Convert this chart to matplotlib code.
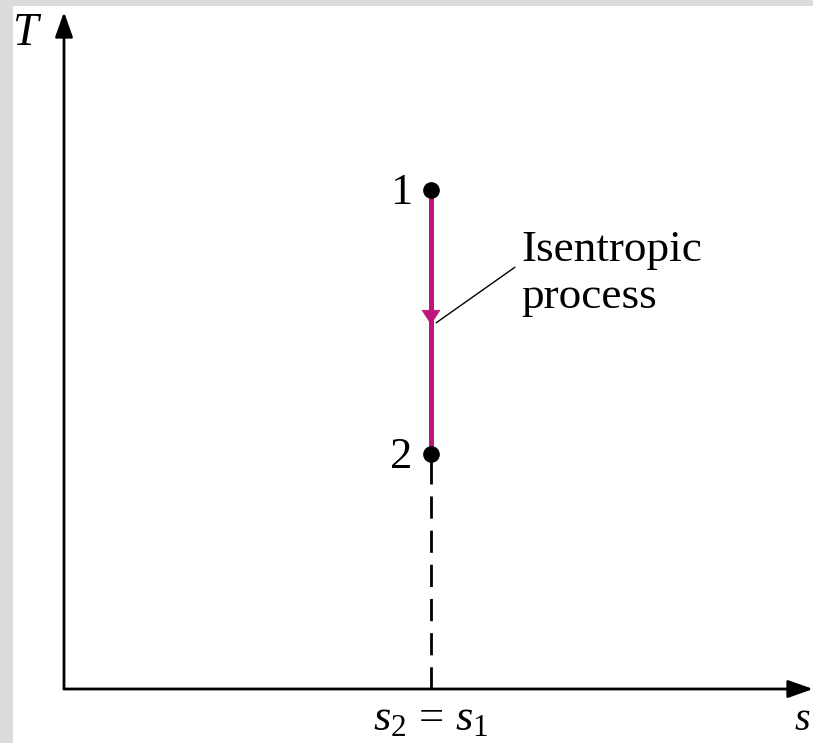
import matplotlib.pyplot as plt
from matplotlib.patches import Rectangle

plt.rcParams['font.family'] = ['Liberation Serif', 'DejaVu Serif']
plt.rcParams['mathtext.fontset'] = 'custom'
plt.rcParams['mathtext.rm'] = 'Liberation Serif'
plt.rcParams['mathtext.it'] = 'Liberation Serif:italic'
plt.rcParams['mathtext.fallback'] = 'stix'

# T-s diagram, arbitrary units on both axes (0..10)
s_1 = 4.9
T_states = [7.37, 3.47]
state_labels = ['1', '2']
note_lines = ['Isentropic', 'process']
x_tick_label = r'$s_2\,=\,s_1$'

magenta = '#c0147c'

fig = plt.figure(figsize=(8.13, 7.43), dpi=100)
fig.patch.set_facecolor('#dcdcdc')
fig.add_artist(Rectangle((13 / 813, 0), 1, 1 - 6 / 743, transform=fig.transFigure,
                         facecolor='white', edgecolor='none', zorder=0))

ax = fig.add_axes([64 / 813, 54 / 743, 749 / 813, 677 / 743])
ax.set_xlim(0, 10)
ax.set_ylim(0, 10)
ax.axis('off')
ax.patch.set_alpha(0)

# axes with arrow heads
axis_arrow = dict(arrowstyle='-|>,head_length=0.76,head_width=0.27', lw=2,
                  color='black', shrinkA=0, shrinkB=0, mutation_scale=20)
ax.annotate('', xy=(0, 10), xytext=(0, 0), arrowprops=axis_arrow, annotation_clip=False)
ax.annotate('', xy=(10, 0), xytext=(0, 0), arrowprops=axis_arrow, annotation_clip=False)

# dashed drop line from state 2 to the s axis
ax.plot([s_1, s_1], [0, T_states[1]], color='black', lw=2, dashes=(8, 4.3), zorder=2)

# isentropic process line with arrow in the middle
ax.plot([s_1, s_1], T_states, color=magenta, lw=3.6, solid_capstyle='butt', zorder=3)
T_mid = sum(T_states) / 2
ax.annotate('', xy=(s_1, T_mid - 0.04), xytext=(s_1, T_mid + 0.4),
            arrowprops=dict(arrowstyle='-|>,head_length=0.5,head_width=0.32',
                            color=magenta, lw=0.5, shrinkA=0, shrinkB=0,
                            mutation_scale=20), zorder=3)

# state points
ax.plot([s_1] * len(T_states), T_states, 'o', color='black', ms=11, zorder=4)
for T, lab in zip(T_states, state_labels):
    ax.annotate(lab, xy=(s_1, T), xytext=(-13.5, -10), textcoords='offset points',
                ha='right', va='baseline', fontsize=32)

# leader + note
ax.annotate('', xy=(4.97, 5.41), xytext=(6.02, 6.23),
            arrowprops=dict(arrowstyle='-', lw=1.0, color='black', shrinkA=0, shrinkB=0))
ax.text(6.11, 6.32, note_lines[0], ha='left', va='baseline', fontsize=32.5)
ax.text(6.11, 5.63, note_lines[1], ha='left', va='baseline', fontsize=32.5)

# axis labels
ax.text(s_1, -0.606, x_tick_label, ha='center', va='baseline', fontsize=32, clip_on=False)
ax.text(9.96, -0.606, r'$s$', ha='right', va='baseline', fontsize=29, clip_on=False)
ax.text(-0.487, 9.51, r'$T$', ha='center', va='baseline', fontsize=33, clip_on=False)

fig.savefig('out.png', dpi=100, facecolor=fig.get_facecolor())
